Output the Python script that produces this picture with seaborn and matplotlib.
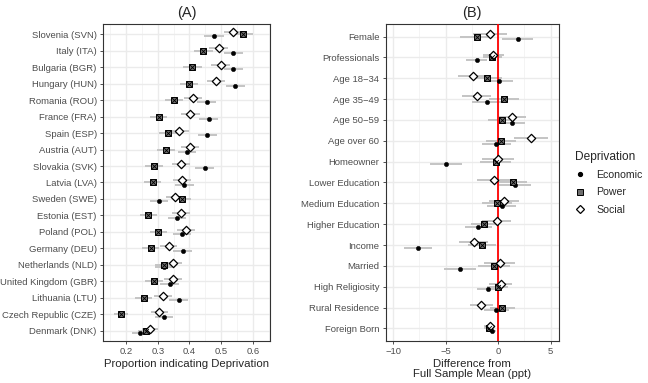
import numpy as np
import pandas as pd
import matplotlib
matplotlib.use("Agg")
import matplotlib.pyplot as plt
import seaborn as sns
from matplotlib.lines import Line2D

# painel A - proporcao por pais
paises = ["Slovenia (SVN)", "Italy (ITA)", "Bulgaria (BGR)", "Hungary (HUN)", "Romania (ROU)",
          "France (FRA)", "Spain (ESP)", "Austria (AUT)", "Slovakia (SVK)", "Latvia (LVA)",
          "Sweden (SWE)", "Estonia (EST)", "Poland (POL)", "Germany (DEU)", "Netherlands (NLD)",
          "United Kingdom (GBR)", "Lithuania (LTU)", "Czech Republic (CZE)", "Denmark (DNK)"]
a_economic = [0.478, 0.539, 0.539, 0.545, 0.454, 0.461, 0.456, 0.392, 0.448, 0.383,
              0.304, 0.360, 0.376, 0.379, 0.318, 0.337, 0.366, 0.319, 0.244]
a_power = [0.570, 0.443, 0.408, 0.398, 0.352, 0.303, 0.332, 0.326, 0.289, 0.284,
           0.377, 0.270, 0.301, 0.277, 0.319, 0.288, 0.255, 0.184, 0.262]
a_social = [0.539, 0.493, 0.498, 0.483, 0.411, 0.403, 0.368, 0.401, 0.374, 0.376,
            0.354, 0.374, 0.389, 0.334, 0.348, 0.348, 0.317, 0.305, 0.275]
a_economic_err = [0.031, 0.030, 0.031, 0.030, 0.029, 0.030, 0.030, 0.029, 0.031, 0.030,
                  0.028, 0.029, 0.029, 0.030, 0.028, 0.029, 0.030, 0.028, 0.025]
a_power_err = [0.032, 0.030, 0.030, 0.029, 0.028, 0.027, 0.028, 0.027, 0.028, 0.027,
               0.028, 0.027, 0.027, 0.026, 0.027, 0.027, 0.026, 0.022, 0.024]
a_social_err = [0.031, 0.030, 0.030, 0.029, 0.028, 0.029, 0.029, 0.029, 0.029, 0.029,
                0.028, 0.029, 0.028, 0.028, 0.028, 0.028, 0.028, 0.027, 0.026]

# painel B - diferenca da media (ppt)
grupos = ["Female", "Professionals", "Age 18\u221234", "Age 35\u221249", "Age 50\u221259",
          "Age over 60", "Homeowner", "Lower Education", "Medium Education", "Higher Education",
          "Income", "Married", "High Religiosity", "Rural Residence", "Foreign Born"]
b_economic = [1.85, -2.06, 0.03, -1.11, 1.27, -0.19, -4.95, 1.56, 0.32, -1.90,
              -7.65, -3.65, -0.98, -0.19, -0.57]
b_power = [-2.06, -0.57, -1.08, 0.54, 0.32, 0.26, -0.25, 1.37, -0.10, -1.33,
           -1.55, -0.38, -0.06, 0.38, -0.86]
b_social = [-0.79, -0.48, -2.44, -2.06, 1.33, 3.11, -0.03, -0.38, 0.54, -0.16,
            -2.35, 0.13, 0.26, -1.62, -0.82]
b_economic_err = [1.5, 1.0, 1.4, 1.4, 1.3, 1.4, 1.5, 1.6, 1.4, 1.3,
                  1.3, 1.5, 1.0, 1.2, 0.4]
b_power_err = [1.6, 0.9, 1.4, 1.4, 1.3, 1.4, 1.5, 1.4, 1.4, 1.3,
               1.3, 1.5, 1.0, 1.2, 0.5]
b_social_err = [1.6, 1.0, 1.4, 1.4, 1.3, 1.6, 1.5, 1.6, 1.4, 1.4,
                1.4, 1.5, 1.1, 1.1, 0.5]

tipos = ["Economic", "Power", "Social"]
deslocamento = {"Economic": 0.13, "Power": 0.0, "Social": -0.13}


def monta_df(categorias, econ, power, social, e_err, p_err, s_err):
    linhas = []
    for tipo, vals, errs in zip(tipos, [econ, power, social], [e_err, p_err, s_err]):
        for i, (cat, v, e) in enumerate(zip(categorias, vals, errs)):
            linhas.append({"cat": cat, "pos": i + deslocamento[tipo], "valor": v,
                           "erro": e, "Deprivation": tipo})
    return pd.DataFrame(linhas)


df_a = monta_df(paises, a_economic, a_power, a_social, a_economic_err, a_power_err, a_social_err)
df_b = monta_df(grupos, b_economic, b_power, b_social, b_economic_err, b_power_err, b_social_err)

sns.set_theme(style="whitegrid")
plt.rcParams["font.family"] = ["Liberation Sans", "DejaVu Sans"]

fig = plt.figure(figsize=(6.48, 3.83), dpi=100)
ax_a = fig.add_axes([0.159, 0.110, 0.258, 0.827])
ax_b = fig.add_axes([0.595, 0.110, 0.267, 0.827])


def desenha(ax, df, categorias):
    n = len(categorias)
    ax.hlines(df["pos"], df["valor"] - df["erro"], df["valor"] + df["erro"],
              color="#c4c4c4", lw=1.4, zorder=2)
    econ = df[df["Deprivation"] == "Economic"]
    power = df[df["Deprivation"] == "Power"]
    social = df[df["Deprivation"] == "Social"]
    sns.scatterplot(data=econ, x="valor", y="pos", marker="o", color="black", s=10,
                    edgecolor="black", linewidth=0.3, ax=ax, zorder=4)
    sns.scatterplot(data=power, x="valor", y="pos", marker="s", color="#6e6e6e", s=20,
                    edgecolor="black", linewidth=0.7, ax=ax, zorder=4)
    ax.scatter(power["valor"], power["pos"], marker="x", color="black", s=12, lw=0.6, zorder=5)
    sns.scatterplot(data=social, x="valor", y="pos", marker="D", color="white", s=18,
                    edgecolor="black", linewidth=0.9, ax=ax, zorder=4)
    ax.set_yticks(range(n))
    ax.set_yticklabels(categorias)
    ax.set_ylim(n - 1 + 0.6, -0.6)
    ax.set_ylabel("")
    ax.grid(True, which="major", color="#ebebeb", lw=1.0)
    ax.grid(True, which="minor", axis="x", color="#f3f3f3", lw=0.6)
    ax.set_axisbelow(True)
    ax.tick_params(axis="both", labelsize=6.8, labelcolor="#4d4d4d", length=2.5,
                   width=0.6, color="#333333", pad=2, left=True, bottom=True)
    for s in ax.spines.values():
        s.set_color("#333333")
        s.set_linewidth(0.8)


desenha(ax_a, df_a, paises)
ax_a.set_xlim(0.127, 0.655)
ax_a.set_xticks([0.2, 0.3, 0.4, 0.5, 0.6])
ax_a.set_xticks([0.15, 0.25, 0.35, 0.45, 0.55, 0.65], minor=True)
ax_a.tick_params(axis="x", which="minor", length=0)
ax_a.set_xlabel("Proportion indicating Deprivation", fontsize=8.2, labelpad=2)
ax_a.set_title("(A)", fontsize=10.5, pad=5)

desenha(ax_b, df_b, grupos)
ax_b.axvline(0, color="red", lw=1.3, zorder=3)
ax_b.set_xlim(-10.73, 5.75)
ax_b.set_xticks([-10, -5, 0, 5])
ax_b.set_xticks([-7.5, -2.5, 2.5], minor=True)
ax_b.tick_params(axis="x", which="minor", length=0)
ax_b.set_xlabel("Difference from\nFull Sample Mean (ppt)", fontsize=8.2, labelpad=2, linespacing=1.0)
ax_b.set_title("(B)", fontsize=10.5, pad=5)

for ax in [ax_a, ax_b]:
    if ax.get_legend() is not None:
        ax.get_legend().remove()

handles = [
    Line2D([], [], marker="o", ls="", color="black", markersize=2.8),
    Line2D([], [], marker="s", ls="", markerfacecolor="#6e6e6e", markeredgecolor="black",
           markersize=4, markeredgewidth=0.7),
    Line2D([], [], marker="D", ls="", markerfacecolor="white", markeredgecolor="black",
           markersize=3.8, markeredgewidth=0.9),
]
leg = fig.legend(handles, tipos, title="Deprivation", loc="center left",
                 bbox_to_anchor=(0.873, 0.523), frameon=False, fontsize=7.6,
                 title_fontsize=8.6, handlelength=1.0, handletextpad=1.0, labelspacing=0.7)
leg._legend_box.align = "left"

fig.savefig("out.png", dpi=100)
